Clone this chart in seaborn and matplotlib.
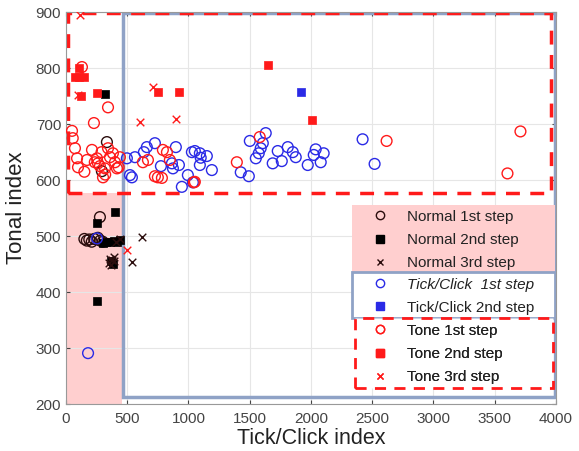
import matplotlib
matplotlib.use('Agg')
import matplotlib.pyplot as plt
from matplotlib.patches import Rectangle
from matplotlib.lines import Line2D
import seaborn as sns

# ---- data ----
normal1_x = [150, 170, 190, 210, 230, 260, 280, 300, 277, 334, 293]
normal1_y = [495, 492, 494, 490, 495, 497, 492, 490, 534, 668, 616]

normal2_x = [318, 400, 250, 253, 300, 330, 360, 390, 420, 440, 370, 385]
normal2_y = [754, 543, 523, 385, 487, 490, 489, 492, 490, 493, 455, 450]

normal3_x = [620, 538, 375, 355, 395, 370, 440, 410, 360, 390]
normal3_y = [498, 454, 457, 452, 455, 448, 495, 489, 460, 462]

tick1_x = [180, 253, 497, 563, 522, 538, 660, 726, 636, 775, 865, 897, 922, 873,
           946, 1028, 1036, 1052, 1093, 1100, 1150, 1093, 1191, 995, 1501, 1631,
           1607, 1590, 1574, 1550, 1688, 1729, 1762, 1811, 1852, 1876, 1974, 2039,
           2023, 2104, 2080, 1427, 1493, 2422, 2520]
tick1_y = [291, 496, 639, 641, 609, 605, 659, 666, 650, 625, 630, 659, 627, 621,
           588, 650, 596, 652, 648, 640, 643, 627, 618, 609, 670, 684,
           666, 657, 648, 639, 630, 652, 634, 659, 650, 641, 627, 655,
           645, 648, 632, 614, 607, 673, 629]

tick2_x = [1917]
tick2_y = [758]

tone1_x = [130, 343, 228, 49, 55, 73, 90, 171, 212, 253, 261, 290, 343, 359, 383,
           400, 416, 318, 302, 277, 235, 98, 440, 430, 669, 791, 726, 783, 848,
           628, 750, 1052, 824, 1395, 1044, 1582, 2618, 3711, 3605, 320, 150]
tone1_y = [802, 730, 702, 688, 675, 657, 639, 636, 654, 639, 630, 650, 657, 641, 648,
           632, 621, 621, 605, 625, 632, 623, 641, 623, 636, 654, 607, 604, 636,
           632, 605, 597, 650, 632, 596, 677, 670, 687, 612, 610, 615]

tone2_x = [110, 70, 105, 150, 120, 250, 750, 920, 1650, 2010]
tone2_y = [800, 785, 785, 785, 750, 755, 758, 758, 805, 707]

tone3_x = [114, 604, 897, 710, 497, 98]
tone3_y = [895, 704, 709, 766, 475, 752]

RED = '#ff1a1a'
BLUE = '#2a2ae6'
DARK = '#2b0d0d'
FRAME = '#8fa2c6'

sns.set_style('white')
plt.rcParams['font.family'] = ['Liberation Sans', 'DejaVu Sans']

fig = plt.figure(figsize=(5.79, 4.51), dpi=100)
ax = fig.add_axes([0.114, 0.104, 0.846, 0.869])

ax.set_xlim(0, 4000)
ax.set_ylim(200, 900)
ax.set_xticks(range(0, 4001, 500))
ax.set_yticks(range(200, 901, 100))
ax.grid(True, color='#e6e6e6', lw=0.8, zorder=0)
ax.set_axisbelow(True)

# background regions
ax.add_patch(Rectangle((0, 200), 455, 377, facecolor='#ffcfcf', edgecolor='none', zorder=0.5))
ax.add_patch(Rectangle((465, 212), 3525, 686, facecolor='none', edgecolor=FRAME, lw=2.5, zorder=1))
ax.add_patch(Rectangle((20, 577), 3944, 322, facecolor='none', edgecolor=RED, lw=2.5,
                       ls=(0, (4, 3)), zorder=1.2))

ms = 60
sns.scatterplot(x=normal1_x, y=normal1_y, ax=ax, marker='o', s=ms, facecolors='none',
                edgecolor=DARK, linewidth=1, zorder=3)
sns.scatterplot(x=normal2_x, y=normal2_y, ax=ax, marker='s', s=40, color='black',
                edgecolor='black', linewidth=0.5, zorder=3)
sns.scatterplot(x=normal3_x, y=normal3_y, ax=ax, marker='x', s=30, color=DARK,
                linewidth=1, zorder=3)
sns.scatterplot(x=tick1_x, y=tick1_y, ax=ax, marker='o', s=ms, facecolors='none',
                edgecolor=BLUE, linewidth=1, zorder=3)
sns.scatterplot(x=tick2_x, y=tick2_y, ax=ax, marker='s', s=40, color=BLUE,
                edgecolor=BLUE, linewidth=0.5, zorder=3)
sns.scatterplot(x=tone1_x, y=tone1_y, ax=ax, marker='o', s=ms, facecolors='none',
                edgecolor=RED, linewidth=1, zorder=3)
sns.scatterplot(x=tone2_x, y=tone2_y, ax=ax, marker='s', s=40, color=RED,
                edgecolor=RED, linewidth=0.5, zorder=3)
sns.scatterplot(x=tone3_x, y=tone3_y, ax=ax, marker='x', s=30, color=RED,
                linewidth=1, zorder=3)

# legend boxes
ax.add_patch(Rectangle((0.584, 0.337), 0.414, 0.171, transform=ax.transAxes,
                       facecolor='#ffcfcf', edgecolor='none', zorder=4))
ax.add_patch(Rectangle((0.584, 0.219), 0.414, 0.118, transform=ax.transAxes,
                       facecolor='white', edgecolor=FRAME, lw=2, zorder=4))
ax.add_patch(Rectangle((0.590, 0.041), 0.404, 0.178, transform=ax.transAxes,
                       facecolor='white', edgecolor=RED, lw=2, ls=(0, (4, 3)), zorder=4))


def h(marker, color, filled):
    return Line2D([], [], ls='none', marker=marker, markersize=6 if marker != 'x' else 5,
                  markerfacecolor=color if filled else 'none', markeredgecolor=color,
                  markeredgewidth=1)


groups = [
    ([h('o', DARK, False), h('s', 'black', True), h('x', DARK, False)],
     ['Normal 1st step', 'Normal 2nd step', 'Normal 3rd step'], 0.496),
    ([h('o', BLUE, False), h('s', BLUE, True)],
     ['Tick/Click  1st step', 'Tick/Click 2nd step'], 0.323),
    ([h('o', RED, False), h('s', RED, True), h('x', RED, False)],
     ['Tone 1st step', 'Tone 2nd step', 'Tone 3rd step'], 0.205),
]
for i, (handles, labels, top) in enumerate(groups):
    leg = ax.legend(handles, labels, loc='upper left', bbox_to_anchor=(0.622, top),
                    frameon=False, fontsize=11, labelspacing=0.6, handlelength=1.2,
                    handletextpad=1.2, borderpad=0, borderaxespad=0)
    leg.set_zorder(6)
    for t in leg.get_texts():
        t.set_color('#222222')
    if i == 1:
        leg.get_texts()[0].set_style('italic')
    ax.add_artist(leg)

ax.set_xlabel('Tick/Click index', fontsize=15.5, color='#222222', labelpad=1)
ax.set_ylabel('Tonal index', fontsize=16, color='#222222', labelpad=6)
ax.tick_params(labelsize=11, colors='#444444', length=3, direction='in',
               top=True, right=True, bottom=True, left=True)
ax.tick_params(axis='x', pad=6)
for sp in ax.spines.values():
    sp.set_color('#999999')
    sp.set_linewidth(0.8)

fig.savefig('out.png', dpi=100)
